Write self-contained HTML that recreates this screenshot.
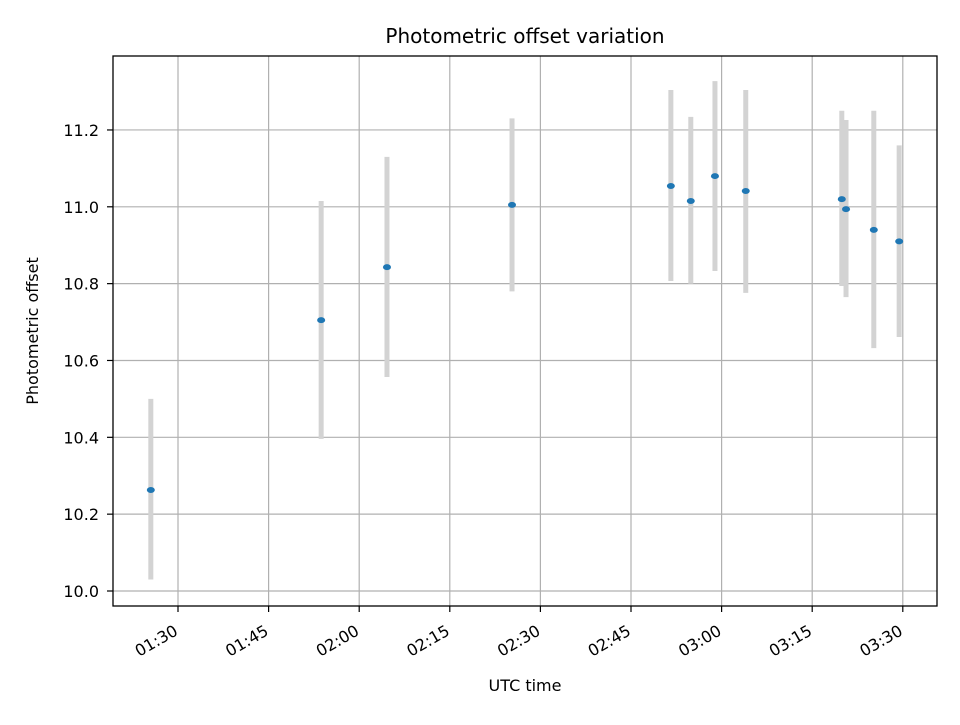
<!DOCTYPE html>
<html><head><meta charset="utf-8"><style>
body{margin:0;background:#fff;}
svg text{font-family:"DejaVu Sans","Liberation Sans",sans-serif;fill:#000;}
</style></head><body>
<svg id="chart" width="960" height="720">
<rect width="960" height="720" fill="#fff"/>
<text x="525" y="43" font-size="20" text-anchor="middle">Photometric offset variation</text>
<g id="grid"></g><g id="errs"></g><g id="pts"></g><g id="xt"></g><g id="yt"></g>
<rect x="113" y="56" width="824" height="550" fill="none" stroke="#000" stroke-width="1.3"/>
<text x="525" y="691" font-size="16" text-anchor="middle">UTC time</text>
<text transform="translate(38,331) rotate(-90)" font-size="16" text-anchor="middle">Photometric offset</text>
</svg>
<script>
const times=["01:25.5","01:53.7","02:04.6","02:25.3","02:51.6","02:54.9","02:58.9","03:04.0","03:19.9","03:20.6","03:25.2","03:29.4"];
const values=[10.263,10.705,10.843,11.005,11.054,11.015,11.08,11.041,11.02,10.994,10.94,10.91];
const upper=[10.50,11.015,11.13,11.23,11.304,11.234,11.327,11.304,11.25,11.226,11.25,11.16];
const lower=[10.03,10.396,10.557,10.78,10.807,10.80,10.833,10.776,10.794,10.765,10.632,10.661];
const xTicks=["01:30","01:45","02:00","02:15","02:30","02:45","03:00","03:15","03:30"];
const yTicks=[10.0,10.2,10.4,10.6,10.8,11.0,11.2];
const NS="http://www.w3.org/2000/svg";
function mins(t){const [h,m]=t.split(":");return (+h)*60+parseFloat(m);}
const x=t=>178+(mins(t)-90)*6.04;
const y=v=>591-(v-10)*384.2;
function mk(tag,attrs,parent){const e=document.createElementNS(NS,tag);for(const k in attrs)e.setAttribute(k,attrs[k]);document.getElementById(parent).appendChild(e);return e;}
xTicks.forEach(t=>{const X=x(t);
 const g=mk("line",{x1:X,x2:X,y1:56,y2:606,stroke:"#b0b0b0","stroke-width":1.2},"grid");
 
 
 mk("line",{x1:X,x2:X,y1:606,y2:612,stroke:"#000","stroke-width":1.2},"xt");
 const tx=mk("text",{x:X+1,y:634,"font-size":16,"text-anchor":"end",transform:`rotate(-30 ${X+1} 634)`},"xt");
 tx.textContent=t;
 
 
});
yTicks.forEach(v=>{const Y=y(v);
 const g=mk("line",{x1:113,x2:937,y1:Y,y2:Y,stroke:"#b0b0b0","stroke-width":1.2},"grid");
 
 
 mk("line",{x1:107,x2:113,y1:Y,y2:Y,stroke:"#000","stroke-width":1.2},"yt");
 const tx=mk("text",{x:99,y:Y+6,"font-size":16,"text-anchor":"end"},"yt");
 tx.textContent=v.toFixed(1);
 
 
});
times.forEach((t,i)=>{const X=x(t);
 const e=mk("line",{x1:X,x2:X,y1:y(upper[i]),y2:y(lower[i]),stroke:"#d3d3d3","stroke-width":5},"errs");
 
 
 const p=mk("ellipse",{cx:X,cy:y(values[i]),rx:4,ry:3,fill:"#1f77b4"},"pts");
 
 
});
</script>
</body></html>
